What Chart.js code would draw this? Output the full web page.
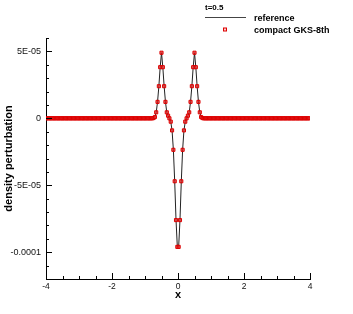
<!DOCTYPE html>
<html>
<head>
<meta charset="utf-8">
<title>density perturbation t=0.5</title>
<script src="https://cdn.jsdelivr.net/npm/chart.js@4.4.1/dist/chart.umd.min.js"></script>
<style>
  html, body { margin: 0; padding: 0; background: #fff; }
  canvas { display: block; }
</style>
</head>
<body>
<canvas id="chart" width="353" height="314"></canvas>
<script>
var legendTitle = 't=0.5';
var seriesNames = ['reference', 'compact GKS-8th'];

var xTicks = [-4, -2, 0, 2, 4];
var xTickLabels = ['-4', '-2', '0', '2', '4'];
var yTicks = [-0.0001, -0.00005, 0, 0.00005];
var yTickLabels = ['-0.0001', '-5E-05', '0', '5E-05'];

// reference solution (line)
var refX = [-4,
  -0.78, -0.74, -0.70, -0.66, -0.62, -0.58, -0.54, -0.50, -0.46, -0.42,
  -0.38, -0.34, -0.30, -0.26, -0.22, -0.18, -0.14, -0.10, -0.06, -0.02,
  0.02, 0.06, 0.10, 0.14, 0.18, 0.22, 0.26, 0.30, 0.34, 0.38,
  0.42, 0.46, 0.50, 0.54, 0.58, 0.62, 0.66, 0.70, 0.74, 0.78,
  4];
var refY = [0,
  0, 2e-7, 1e-6, 4.5e-6, 1.23e-5, 2.4e-5, 3.82e-5, 4.9e-5, 3.82e-5, 2.4e-5,
  1.23e-5, 4.5e-6, 2e-6, 0, -2.5e-6, -9e-6, -2.35e-5, -4.7e-5, -7.6e-5, -9.6e-5,
  -9.6e-5, -7.6e-5, -4.7e-5, -2.35e-5, -9e-6, -2.5e-6, 0, 2e-6, 4.5e-6, 1.23e-5,
  2.4e-5, 3.82e-5, 4.9e-5, 3.82e-5, 2.4e-5, 1.23e-5, 4.5e-6, 1e-6, 2e-7, 0,
  0];

// compact GKS-8th cell values
var gksX = [
  -3.98, -3.94, -3.90, -3.86, -3.82, -3.78, -3.74, -3.70, -3.66, -3.62,
  -3.58, -3.54, -3.50, -3.46, -3.42, -3.38, -3.34, -3.30, -3.26, -3.22,
  -3.18, -3.14, -3.10, -3.06, -3.02, -2.98, -2.94, -2.90, -2.86, -2.82,
  -2.78, -2.74, -2.70, -2.66, -2.62, -2.58, -2.54, -2.50, -2.46, -2.42,
  -2.38, -2.34, -2.30, -2.26, -2.22, -2.18, -2.14, -2.10, -2.06, -2.02,
  -1.98, -1.94, -1.90, -1.86, -1.82, -1.78, -1.74, -1.70, -1.66, -1.62,
  -1.58, -1.54, -1.50, -1.46, -1.42, -1.38, -1.34, -1.30, -1.26, -1.22,
  -1.18, -1.14, -1.10, -1.06, -1.02, -0.98, -0.94, -0.90, -0.86, -0.82,
  -0.78, -0.74, -0.70, -0.66, -0.62, -0.58, -0.54, -0.50, -0.46, -0.42,
  -0.38, -0.34, -0.30, -0.26, -0.22, -0.18, -0.14, -0.10, -0.06, -0.02,
  0.02, 0.06, 0.10, 0.14, 0.18, 0.22, 0.26, 0.30, 0.34, 0.38,
  0.42, 0.46, 0.50, 0.54, 0.58, 0.62, 0.66, 0.70, 0.74, 0.78,
  0.82, 0.86, 0.90, 0.94, 0.98, 1.02, 1.06, 1.10, 1.14, 1.18,
  1.22, 1.26, 1.30, 1.34, 1.38, 1.42, 1.46, 1.50, 1.54, 1.58,
  1.62, 1.66, 1.70, 1.74, 1.78, 1.82, 1.86, 1.90, 1.94, 1.98,
  2.02, 2.06, 2.10, 2.14, 2.18, 2.22, 2.26, 2.30, 2.34, 2.38,
  2.42, 2.46, 2.50, 2.54, 2.58, 2.62, 2.66, 2.70, 2.74, 2.78,
  2.82, 2.86, 2.90, 2.94, 2.98, 3.02, 3.06, 3.10, 3.14, 3.18,
  3.22, 3.26, 3.30, 3.34, 3.38, 3.42, 3.46, 3.50, 3.54, 3.58,
  3.62, 3.66, 3.70, 3.74, 3.78, 3.82, 3.86, 3.90, 3.94, 3.98
];
var gksY = [
  0, 0, 0, 0, 0, 0, 0, 0, 0, 0,
  0, 0, 0, 0, 0, 0, 0, 0, 0, 0,
  0, 0, 0, 0, 0, 0, 0, 0, 0, 0,
  0, 0, 0, 0, 0, 0, 0, 0, 0, 0,
  0, 0, 0, 0, 0, 0, 0, 0, 0, 0,
  0, 0, 0, 0, 0, 0, 0, 0, 0, 0,
  0, 0, 0, 0, 0, 0, 0, 0, 0, 0,
  0, 0, 0, 0, 0, 0, 0, 0, 0, 0,
  0, 2e-7, 1e-6, 4.5e-6, 1.23e-5, 2.4e-5, 3.82e-5, 4.9e-5, 3.82e-5, 2.4e-5,
  1.23e-5, 4.5e-6, 2e-6, 0, -2.5e-6, -9e-6, -2.35e-5, -4.7e-5, -7.6e-5, -9.6e-5,
  -9.6e-5, -7.6e-5, -4.7e-5, -2.35e-5, -9e-6, -2.5e-6, 0, 2e-6, 4.5e-6, 1.23e-5,
  2.4e-5, 3.82e-5, 4.9e-5, 3.82e-5, 2.4e-5, 1.23e-5, 4.5e-6, 1e-6, 2e-7, 0,
  0, 0, 0, 0, 0, 0, 0, 0, 0, 0,
  0, 0, 0, 0, 0, 0, 0, 0, 0, 0,
  0, 0, 0, 0, 0, 0, 0, 0, 0, 0,
  0, 0, 0, 0, 0, 0, 0, 0, 0, 0,
  0, 0, 0, 0, 0, 0, 0, 0, 0, 0,
  0, 0, 0, 0, 0, 0, 0, 0, 0, 0,
  0, 0, 0, 0, 0, 0, 0, 0, 0, 0,
  0, 0, 0, 0, 0, 0, 0, 0, 0, 0
];

var FONT = '"Liberation Sans", Arial, Helvetica, sans-serif';
var RED = '#dd0000';
var MARKER_FILL = 'rgba(225, 40, 40, 0.7)';

function toPoints(xs, ys) {
  return xs.map(function (x, i) { return { x: x, y: ys[i] }; });
}

// inward ticks (major + minor) and the legend, Tecplot style
var axisDecor = {
  id: 'axisDecor',
  afterDraw: function (chart) {
    var ctx = chart.ctx;
    var area = chart.chartArea;
    var xs = chart.scales.x;
    var ys = chart.scales.y;
    var k, p, major;

    ctx.save();
    ctx.strokeStyle = '#000';
    ctx.lineWidth = 1;
    ctx.beginPath();
    for (k = -8; k <= 8; k++) {
      major = (k % 4 === 0);
      p = Math.round(xs.getPixelForValue(k * 0.5)) + 0.5;
      ctx.moveTo(p, area.bottom);
      ctx.lineTo(p, area.bottom - (major ? 6 : 3));
    }
    for (k = -12; k <= 6; k++) {
      major = (k % 5 === 0);
      p = Math.round(ys.getPixelForValue(k * 1e-5)) + 0.5;
      ctx.moveTo(area.left, p);
      ctx.lineTo(area.left + (major ? 6 : 3), p);
    }
    ctx.stroke();

    // legend
    ctx.fillStyle = '#000';
    ctx.textBaseline = 'alphabetic';
    ctx.textAlign = 'left';
    ctx.font = 'bold 8px ' + FONT;
    ctx.fillText(legendTitle, 205, 9.5);

    ctx.strokeStyle = '#444';
    ctx.beginPath();
    ctx.moveTo(205, 17.5);
    ctx.lineTo(246, 17.5);
    ctx.stroke();

    ctx.font = 'bold 9px ' + FONT;
    ctx.fillText(seriesNames[0], 254, 20.8);
    ctx.fillText(seriesNames[1], 254, 32.6);

    ctx.fillStyle = 'rgba(255, 150, 150, 0.5)';
    ctx.strokeStyle = RED;
    ctx.fillRect(223.5, 28, 3, 3);
    ctx.strokeRect(223.5, 28, 3, 3);
    ctx.restore();
  }
};

new Chart(document.getElementById('chart'), {
  type: 'scatter',
  data: {
    datasets: [{
      label: seriesNames[0],
      data: toPoints(refX, refY),
      showLine: true,
      borderColor: '#222',
      borderWidth: 1,
      tension: 0,
      pointRadius: 0,
      order: 1
    }, {
      label: seriesNames[1],
      data: toPoints(gksX, gksY),
      showLine: false,
      pointStyle: 'rect',
      pointRadius: 2.2,
      borderWidth: 1,
      borderColor: RED,
      backgroundColor: MARKER_FILL,
      order: 0
    }]
  },
  options: {
    responsive: false,
    animation: false,
    events: [],
    layout: {
      padding: { top: 38, right: 43, left: 0, bottom: 0 }
    },
    plugins: {
      legend: { display: false },
      tooltip: { enabled: false }
    },
    scales: {
      x: {
        type: 'linear',
        min: -4,
        max: 4,
        afterBuildTicks: function (scale) {
          scale.ticks = xTicks.map(function (v) { return { value: v }; });
        },
        afterFit: function (scale) { scale.height = 35; },
        grid: { display: true, drawOnChartArea: false, drawTicks: false },
        border: { display: true, color: '#000', width: 1 },
        ticks: {
          autoSkip: false,
          maxRotation: 0,
          padding: 3,
          color: '#111',
          font: { family: FONT, size: 8.5 },
          callback: function (value) { return xTickLabels[xTicks.indexOf(value)]; }
        },
        title: {
          display: true,
          text: 'x',
          color: '#000',
          font: { family: FONT, size: 11, weight: 'bold' },
          padding: { top: 0, bottom: 12 }
        }
      },
      y: {
        type: 'linear',
        min: -0.00012,
        max: 0.00006,
        afterBuildTicks: function (scale) {
          scale.ticks = yTicks.map(function (v) { return { value: v }; });
        },
        afterFit: function (scale) { scale.width = 46; },
        grid: { display: true, drawOnChartArea: false, drawTicks: false },
        border: { display: true, color: '#000', width: 1 },
        ticks: {
          autoSkip: false,
          padding: 5,
          color: '#111',
          font: { family: FONT, size: 9 },
          callback: function (value) {
            for (var i = 0; i < yTicks.length; i++) {
              if (Math.abs(yTicks[i] - value) < 1e-12) return yTickLabels[i];
            }
            return '';
          }
        },
        title: {
          display: true,
          text: 'density perturbation',
          color: '#000',
          font: { family: FONT, size: 11, weight: 'bold' },
          padding: { top: 2, bottom: 0 }
        }
      }
    }
  },
  plugins: [axisDecor]
});
</script>
</body>
</html>
